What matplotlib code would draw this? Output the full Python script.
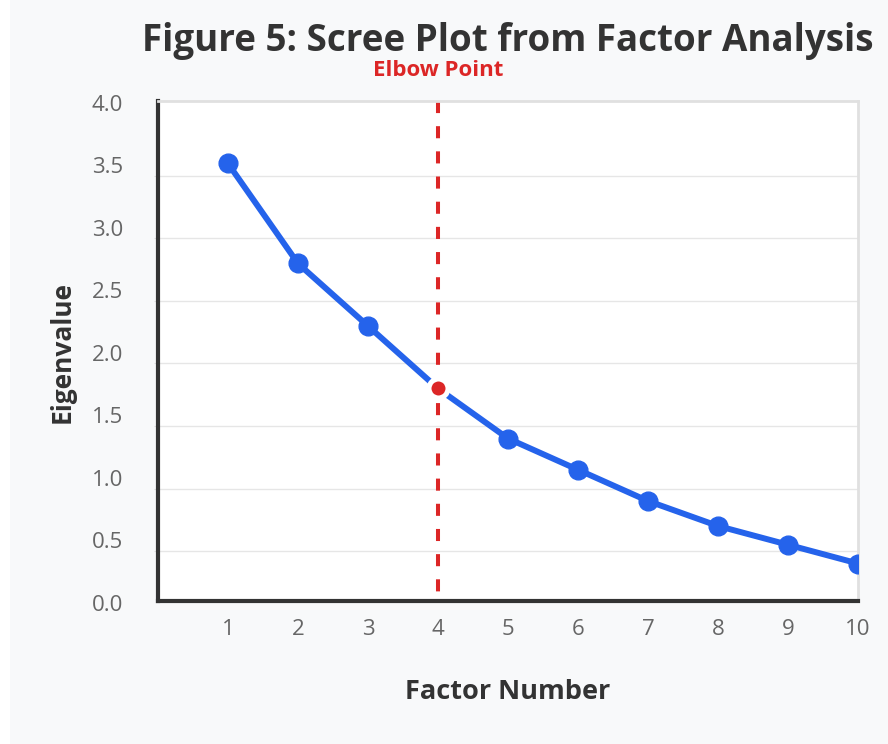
import matplotlib.pyplot as plt
import matplotlib.transforms as mtransforms
from matplotlib.patches import Rectangle

factors = [1, 2, 3, 4, 5, 6, 7, 8, 9, 10]
eigenvalues = [3.6, 2.8, 2.3, 1.8, 1.4, 1.15, 0.9, 0.7, 0.55, 0.4]
elbow_factor = 4
y_grid = [0.5, 1.0, 1.5, 2.0, 2.5, 3.0, 3.5]
y_labels = [0.0, 0.5, 1.0, 1.5, 2.0, 2.5, 3.0, 3.5, 4.0]

BLUE = "#2563eb"
RED = "#dc2626"
DARK = "#333333"
GREY = "#666666"

plt.rcParams["font.family"] = ["Open Sans", "DejaVu Sans"]

fig = plt.figure(figsize=(8.88, 7.44), dpi=100, facecolor="white")
fig.patches.append(Rectangle((10 / 888, 0), 1, 1, transform=fig.transFigure,
                             facecolor="#f8f9fa", edgecolor="none", zorder=-10))

ax = fig.add_axes([158 / 888, 143 / 744, 700 / 888, 500 / 744])
ax.set_facecolor("white")
ax.set_xlim(0, 10)
ax.set_ylim(0.1, 4.1)

ax.set_yticks(y_grid)
ax.set_yticklabels([])
ax.tick_params(axis="y", length=3, color="#dddddd")
ax.yaxis.grid(True, color="#e6e6e6", linewidth=1)
ax.set_axisbelow(True)

ax.set_xticks(factors)
ax.tick_params(axis="x", length=0, pad=13, labelsize=16, labelcolor=GREY)

# y labels sit a few pixels above the grid lines in the original
trans = mtransforms.blended_transform_factory(ax.transAxes, ax.transData)
for v in y_labels:
    ax.text(-0.05, v + 0.064, f"{v:.1f}", transform=trans, ha="right", va="center",
            fontsize=16, color=GREY)

for side in ["left", "bottom"]:
    ax.spines[side].set_color(DARK)
    ax.spines[side].set_linewidth(3)
for side in ["top", "right"]:
    ax.spines[side].set_color("#e0e0e0")
    ax.spines[side].set_linewidth(2)

ax.plot(factors, eigenvalues, color=BLUE, linewidth=4.3, marker="o",
        markersize=13.5, markerfacecolor=BLUE, markeredgecolor=BLUE, zorder=3)

ax.axvline(elbow_factor, ymin=1, ymax=0, color=RED, linewidth=2.9,
           dashes=(3, 3.25), zorder=2)
elbow_val = eigenvalues[factors.index(elbow_factor)]
ax.plot([elbow_factor], [elbow_val], marker="o", markersize=13.7, markerfacecolor=RED,
        markeredgecolor="white", markeredgewidth=3.6, linestyle="none", zorder=4)

ax.text(elbow_factor, 1.062, "Elbow Point", transform=ax.get_xaxis_transform(),
        ha="center", va="center", fontsize=16, fontweight="bold", color=RED)

fig.text(508 / 888, (744 - 51) / 744, "Figure 5: Scree Plot from Factor Analysis",
         ha="center", va="baseline", fontsize=26.5, fontweight="bold", color=DARK)
fig.text(62 / 888, 392 / 744, "Eigenvalue", rotation=90, ha="center", va="center",
         fontsize=19, fontweight="bold", color=DARK)
ax.set_xlabel("Factor Number", fontsize=19.5, fontweight="bold", color=DARK, va="center")
ax.xaxis.set_label_coords(0.5, -0.182)

fig.savefig("out.png", dpi=100, facecolor=fig.get_facecolor())
